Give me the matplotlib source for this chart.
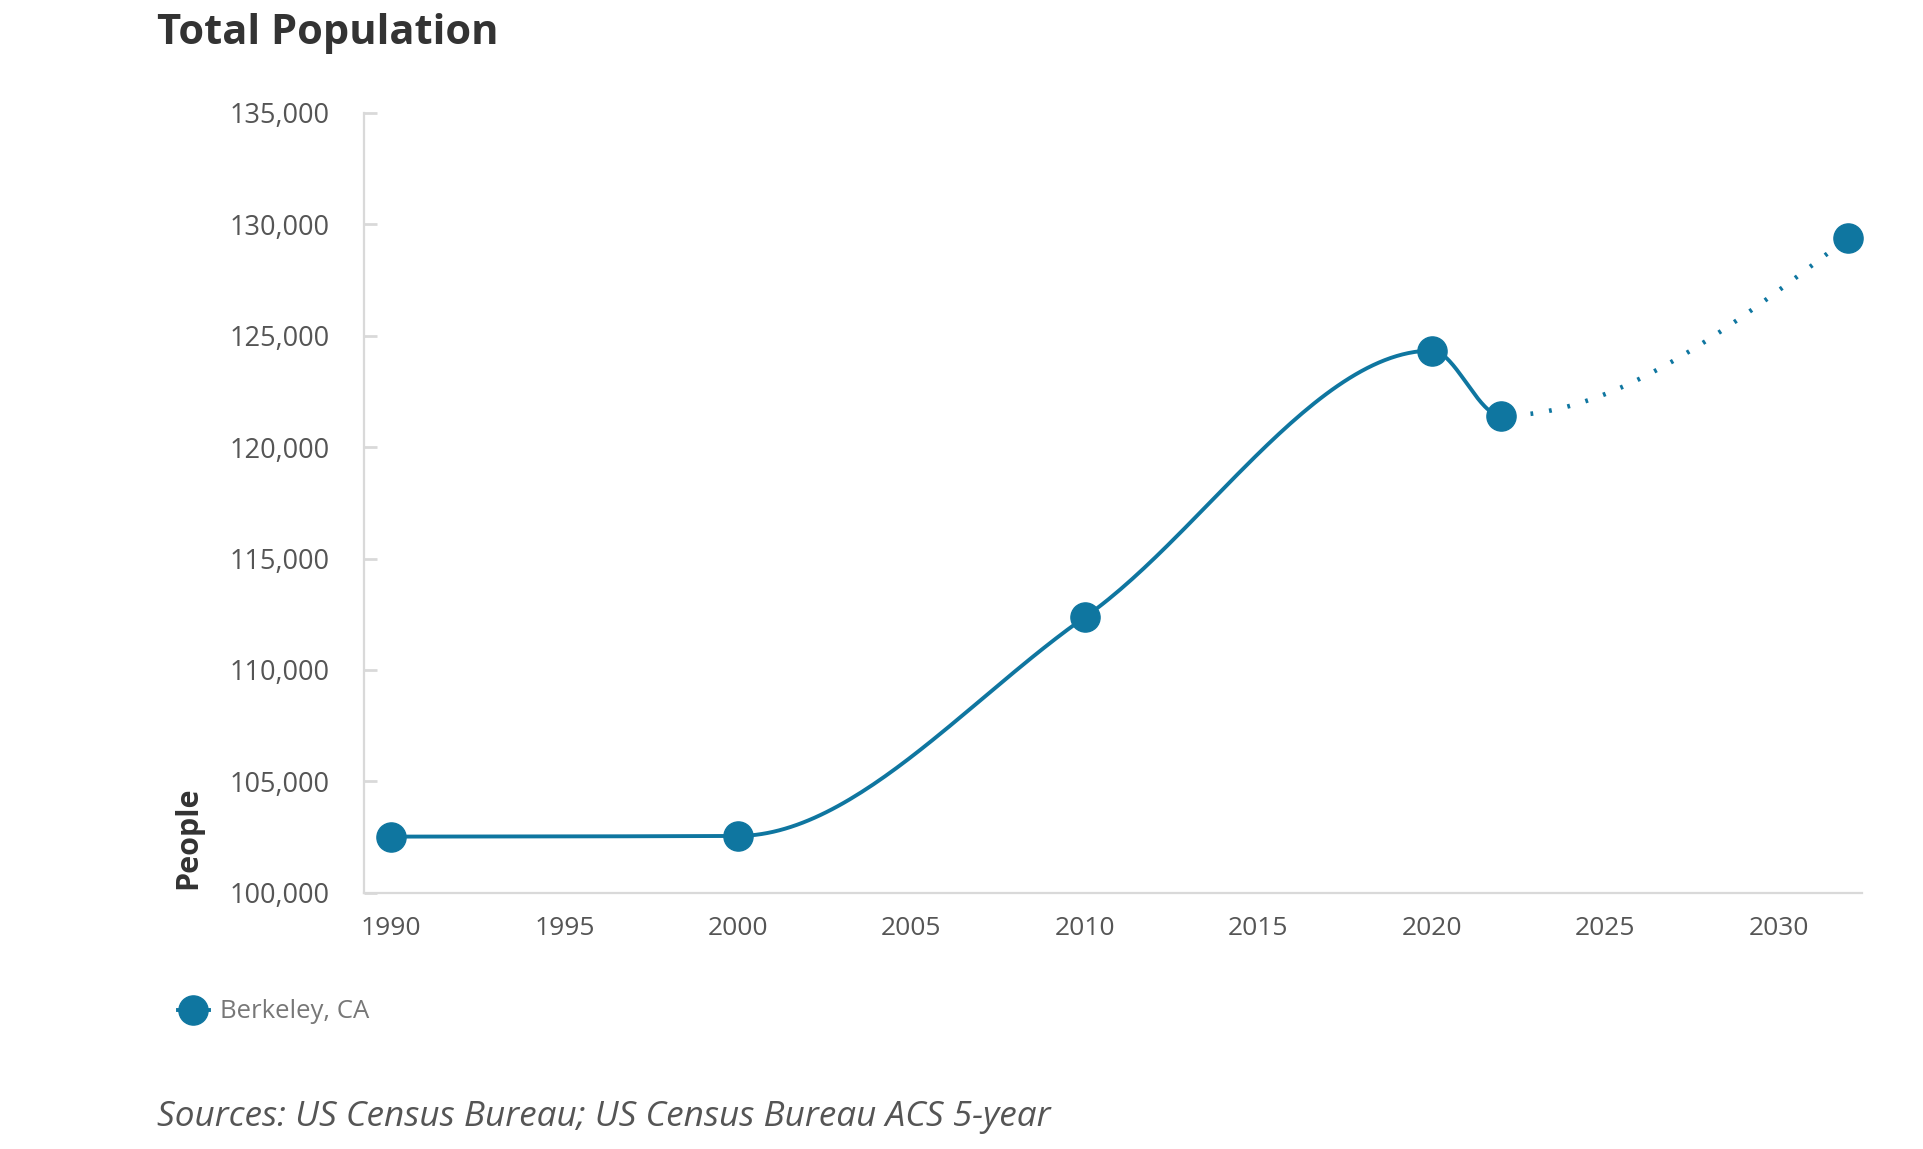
import numpy as np
import matplotlib
matplotlib.use("Agg")
import matplotlib.pyplot as plt
from matplotlib.lines import Line2D
from matplotlib.ticker import FuncFormatter

# data
years = [1990, 2000, 2010, 2020, 2022, 2032]
population = [102520, 102550, 112370, 124330, 121410, 129400]
n_solid = 5  # first 5 points observed, last segment projected (dotted)
series_name = "Berkeley, CA"
x_ticks = [1990, 1995, 2000, 2005, 2010, 2015, 2020, 2025, 2030]
y_ticks = [100000, 105000, 110000, 115000, 120000, 125000, 130000, 135000]

line_color = "#0f76a0"
axis_color = "#d9d9d9"
text_gray = "#555555"


def monotone_tangents(x, y):
    # d3 curveMonotoneX style tangents
    x = np.asarray(x, float)
    y = np.asarray(y, float)
    n = len(x)
    t = np.zeros(n)
    for i in range(1, n - 1):
        h0 = x[i] - x[i - 1]
        h1 = x[i + 1] - x[i]
        s0 = (y[i] - y[i - 1]) / h0
        s1 = (y[i + 1] - y[i]) / h1
        p = (s0 * h1 + s1 * h0) / (h0 + h1)
        t[i] = (np.sign(s0) + np.sign(s1)) * min(abs(s0), abs(s1), 0.5 * abs(p))
    t[0] = (3 * (y[1] - y[0]) / (x[1] - x[0]) - t[1]) / 2
    t[-1] = (3 * (y[-1] - y[-2]) / (x[-1] - x[-2]) - t[-2]) / 2
    return t


def bezier_segment(x0, y0, x1, y1, t0, t1, n=60):
    dx = (x1 - x0) / 3
    p = np.array([[x0, y0], [x0 + dx, y0 + dx * t0], [x1 - dx, y1 - dx * t1], [x1, y1]])
    s = np.linspace(0, 1, n)[:, None]
    pts = ((1 - s) ** 3) * p[0] + 3 * ((1 - s) ** 2) * s * p[1] + 3 * (1 - s) * s ** 2 * p[2] + s ** 3 * p[3]
    return pts[:, 0], pts[:, 1]


tang = monotone_tangents(years, population)
solid_x, solid_y = [], []
dot_x, dot_y = [], []
for i in range(len(years) - 1):
    bx, by = bezier_segment(years[i], population[i], years[i + 1], population[i + 1], tang[i], tang[i + 1])
    if i < n_solid - 1:
        solid_x.extend(bx)
        solid_y.extend(by)
    else:
        dot_x.extend(bx)
        dot_y.extend(by)

plt.rcParams['font.family'] = ['Open Sans', 'DejaVu Sans']

fig = plt.figure(figsize=(19.23, 11.49), dpi=100)
ax = fig.add_axes([0.1893, 0.2230, 0.779, 0.6788])

ax.plot(solid_x, solid_y, color=line_color, lw=2.8, solid_capstyle='round', zorder=2)
ax.plot(dot_x, dot_y, color=line_color, lw=3.3, linestyle=(1.8, (0.6, 3.5)), zorder=2)
ax.plot(years, population, 'o', color=line_color, markersize=21, zorder=3, clip_on=False)

ax.set_xlim(1989.22, 2032.4)
ax.set_ylim(100000, 135000)
ax.set_xticks(x_ticks)
ax.set_yticks(y_ticks)
ax.yaxis.set_major_formatter(FuncFormatter(lambda v, p: f"{int(v):,}"))

for s in ['top', 'right']:
    ax.spines[s].set_visible(False)
ax.spines['left'].set_color(axis_color)
ax.spines['left'].set_linewidth(1.6)
ax.spines['bottom'].set_color(axis_color)
ax.spines['bottom'].set_linewidth(1.6)

ax.tick_params(axis='y', direction='in', length=9, width=2, color=axis_color,
               labelsize=19.5, labelcolor=text_gray, pad=25)
ax.tick_params(axis='x', length=0, labelsize=19, labelcolor=text_gray, pad=17)

fig.text(188 / 1923, 1 - 838 / 1149, "People", rotation=90, ha='center', va='center',
         fontsize=22, fontweight='bold', color="#333333")

fig.text(157 / 1923, 1 - 33 / 1149, "Total Population", ha='left', va='center',
         fontsize=30, fontweight='bold', color="#333333")

fig.text(157 / 1923, 1 - 1117 / 1149, "Sources: US Census Bureau; US Census Bureau ACS 5-year",
         ha='left', va='center', fontsize=25.3, fontstyle='italic', color=text_gray)

handle = Line2D([0], [0], color=line_color, lw=2.8, marker='o', markersize=21)
fig.legend([handle], [series_name], loc='center left', bbox_to_anchor=(165 / 1923, 1 - 1012 / 1149),
           frameon=False, fontsize=18.5, handlelength=1.2, handletextpad=0.45, borderpad=0,
           labelcolor="#777777")

fig.savefig("out.png", dpi=100, facecolor='white')
